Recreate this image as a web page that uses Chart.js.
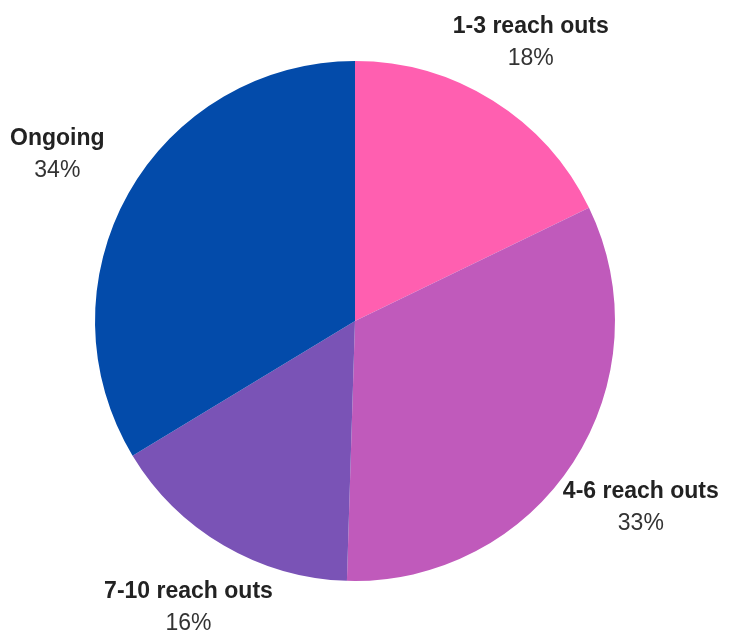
<!DOCTYPE html>
<html lang="en">
<head>
    <meta charset="UTF-8">
    <title>Reach outs</title>
    <script src="https://cdn.jsdelivr.net/npm/chart.js"></script>
    <style>
        html, body { margin: 0; padding: 0; background: #fff; }
        #pieChart { display: block; }
    </style>
</head>
<body>
    <canvas id="pieChart" width="730" height="632"></canvas>
    <script>
        // Slices, clockwise from 12 o'clock
        const categories = ['1-3 reach outs', '4-6 reach outs', '7-10 reach outs', 'Ongoing'];
        const shares = [18, 33, 16, 34];
        const shareLabels = ['18%', '33%', '16%', '34%'];
        const sliceColors = ['#FF5FB0', '#C05ABB', '#7A53B6', '#034BAA'];

        const nameFont = 'bold 23px "Liberation Sans", Arial, sans-serif';
        const pctFont = '23px "Liberation Sans", Arial, sans-serif';

        // Name + percentage outside each slice, along the mid-angle;
        // labels to the sides sit a little further out than top/bottom ones
        const outsideLabels = {
            id: 'outsideLabels',
            afterDatasetsDraw(chart) {
                const ctx = chart.ctx;
                const arcs = chart.getDatasetMeta(0).data;
                ctx.save();
                ctx.textAlign = 'center';
                ctx.textBaseline = 'alphabetic';
                arcs.forEach((arc, i) => {
                    const p = arc.getProps(['x', 'y', 'startAngle', 'endAngle', 'outerRadius'], true);
                    const mid = (p.startAngle + p.endAngle) / 2;
                    const cos = Math.cos(mid), sin = Math.sin(mid);
                    const r = p.outerRadius * (1.208 + 0.122 * Math.abs(cos));
                    const x = p.x + cos * r;
                    const y = p.y + sin * r;
                    ctx.fillStyle = '#222';
                    ctx.font = nameFont;
                    ctx.fillText(categories[i], x, y - 8);
                    ctx.fillStyle = '#333';
                    ctx.font = pctFont;
                    ctx.fillText(shareLabels[i], x, y + 24);
                });
                ctx.restore();
            }
        };

        const ctx = document.getElementById('pieChart').getContext('2d');
        const chart = new Chart(ctx, {
            type: 'pie',
            data: {
                labels: categories,
                datasets: [{
                    data: shares,
                    backgroundColor: sliceColors,
                    borderWidth: 0
                }]
            },
            options: {
                responsive: false,
                animation: false,
                layout: {
                    padding: { left: 95, right: 115, top: 61, bottom: 51 }
                },
                plugins: {
                    legend: { display: false },
                    tooltip: { enabled: false }
                }
            },
            plugins: [outsideLabels]
        });
    </script>
</body>
</html>
